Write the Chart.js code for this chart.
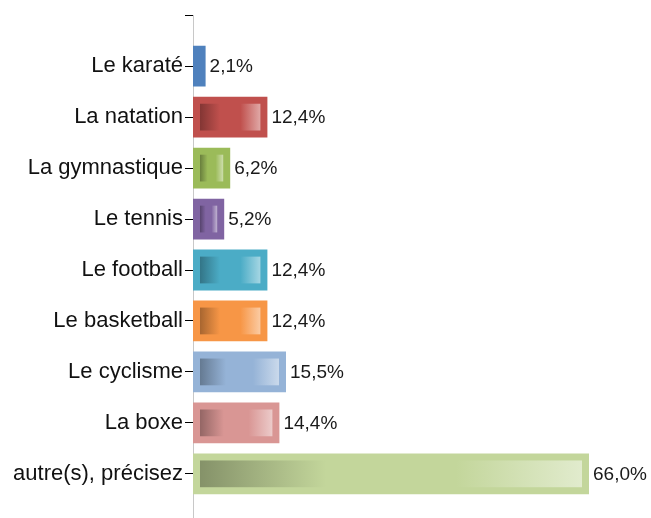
<!DOCTYPE html>
<html>
<head>
<meta charset="utf-8">
<script src="https://cdn.jsdelivr.net/npm/chart.js@4"></script>
<style>
  html, body { margin: 0; padding: 0; background: #fff; overflow: hidden; }
  #wrap { width: 651px; height: 540px; }
</style>
</head>
<body>
<div id="wrap"><canvas id="chart" width="651" height="540"></canvas></div>
<script>
// data (blank slots at both ends keep the axis ticks where they are)
const categories = ['Le karaté', 'La natation', 'La gymnastique', 'Le tennis', 'Le football',
    'Le basketball', 'Le cyclisme', 'La boxe', 'autre(s), précisez'];
const percents = [2.1, 12.4, 6.2, 5.2, 12.4, 12.4, 15.5, 14.4, 66.0];
const barColors = ['#4f81bd', '#c0504d', '#9bbb59', '#8064a2', '#4bacc6',
    '#f79646', '#95b3d7', '#d99694', '#c3d69b'];

const labels = [''].concat(categories, ['']);
const values = [null].concat(percents, [null]);
const colors = ['#000'].concat(barColors, ['#000']);

function mix(hex, target, t) {
    const n = parseInt(hex.slice(1), 16);
    const r = (n >> 16) & 255, g = (n >> 8) & 255, b = n & 255;
    const f = c => Math.round(c + (target - c) * t);
    return 'rgb(' + f(r) + ',' + f(g) + ',' + f(b) + ')';
}

const fmt = v => v.toFixed(1).replace('.', ',') + '%';

const barDecor = {
    id: 'barDecor',
    afterDatasetsDraw(chart) {
        const ctx = chart.ctx;
        const meta = chart.getDatasetMeta(0);
        meta.data.forEach((bar, i) => {
            const v = values[i];
            if (v === null) return;
            const p = bar.getProps(['x', 'y', 'base', 'height'], true);
            const left = Math.min(p.base, p.x), right = Math.max(p.base, p.x);
            const inset = 7;
            const x0 = left + inset, x1 = right - inset;
            const y0 = p.y - p.height / 2 + inset, y1 = p.y + p.height / 2 - inset;
            if (x1 - x0 > 4) {
                const g = ctx.createLinearGradient(x0, 0, x1, 0);
                g.addColorStop(0, mix(colors[i], 0, 0.32));
                g.addColorStop(0.33, colors[i]);
                g.addColorStop(0.67, colors[i]);
                g.addColorStop(1, mix(colors[i], 255, 0.5));
                ctx.save();
                ctx.fillStyle = g;
                ctx.fillRect(x0, y0, x1 - x0, y1 - y0);
                ctx.restore();
            }
            ctx.save();
            ctx.fillStyle = '#1a1a1a';
            ctx.font = '19px "Liberation Sans", Arial, sans-serif';
            ctx.textAlign = 'left';
            ctx.textBaseline = 'middle';
            ctx.fillText(fmt(v), right + 4, p.y + 1);
            ctx.restore();
        });
    }
};

new Chart(document.getElementById('chart'), {
    type: 'bar',
    data: {
        labels: labels,
        datasets: [{
            data: values,
            backgroundColor: colors,
            borderWidth: 0,
            barPercentage: 0.8,
            categoryPercentage: 1
        }]
    },
    options: {
        indexAxis: 'y',
        responsive: false,
        animation: false,
        layout: { padding: { top: 15, right: 8, bottom: 5, left: 0 } },
        plugins: {
            legend: { display: false },
            tooltip: { enabled: false }
        },
        scales: {
            x: {
                display: false,
                min: 0,
                max: 75
            },
            y: {
                offset: false,
                grid: {
                    offset: false,
                    drawOnChartArea: false,
                    tickLength: 8,
                    tickColor: '#000',
                    tickWidth: 1
                },
                border: { color: '#c8c8c8', width: 1 },
                ticks: {
                    autoSkip: false,
                    padding: 2,
                    color: '#111',
                    font: { family: '"Liberation Sans", Arial, sans-serif', size: 22 }
                },
                afterFit: function(scale) {
                    scale.width = 193;
                }
            }
        }
    },
    plugins: [barDecor]
});
</script>
</body>
</html>
